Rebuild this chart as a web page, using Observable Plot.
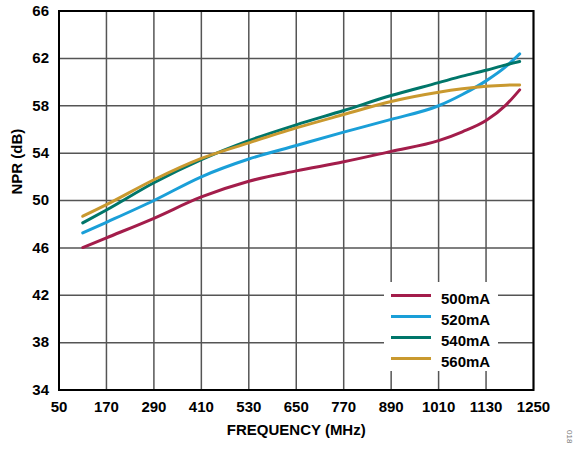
<!DOCTYPE html>
<html>
<head>
<meta charset="utf-8">
<script src="https://cdn.jsdelivr.net/npm/d3@7"></script>
<script src="https://cdn.jsdelivr.net/npm/@observablehq/plot@0.6"></script>
<style>
  body { margin: 0; background: #fff; }
  #wrap { position: relative; width: 574px; height: 449px; overflow: hidden; font-family: "Liberation Sans", Arial, sans-serif; }
  #legend { position: absolute; left: 384px; top: 282px; width: 114px; height: 89px; background: #fff; }
  .row { position: absolute; left: 0; height: 21px; width: 114px; }
  .sw { position: absolute; left: 7px; width: 40px; height: 3px; }
  .lab { position: absolute; left: 57px; font-size: 15px; font-weight: bold; color: #000; line-height: 15px; }
  #code { position: absolute; left: 573px; top: 430px; font-size: 8px; line-height: 8px; color: #777; transform: rotate(90deg); transform-origin: left top; }
</style>
</head>
<body>
<div id="wrap"></div>
<script>
const freq   = [110, 170, 290, 410, 530, 650, 770, 890, 1010, 1070, 1130, 1180, 1215];
const npr500 = [46.03, 46.85, 48.5, 50.3, 51.63, 52.5, 53.27, 54.15, 55.05, 55.8, 56.75, 58.05, 59.34];
const npr520 = [47.26, 48.16, 50.0, 52.0, 53.5, 54.64, 55.77, 56.85, 58.0, 58.95, 60.1, 61.3, 62.38];
const npr540 = [48.11, 49.2, 51.5, 53.45, 55.06, 56.39, 57.6, 58.86, 59.95, 60.5, 61.0, 61.45, 61.73];
const npr560 = [48.67, 49.65, 51.75, 53.55, 54.87, 56.13, 57.26, 58.36, 59.14, 59.43, 59.65, 59.74, 59.76];
const seriesNames  = ["500mA", "520mA", "540mA", "560mA"];
const seriesColors = ["#a31d4b", "#1a9fd8", "#00766a", "#c9992f"];
const xTicks = [50, 170, 290, 410, 530, 650, 770, 890, 1010, 1130, 1250];
const yTicks = [34, 38, 42, 46, 50, 54, 58, 62, 66];
const xTitle = "FREQUENCY (MHz)";
const yTitle = "NPR (dB)";

const values = [npr500, npr520, npr540, npr560];
const rows = seriesNames.flatMap((s, i) => freq.map((f, j) => ({series: s, freq: f, npr: values[i][j]})));

const chart = Plot.plot({
  width: 574, height: 449,
  marginLeft: 58.5, marginRight: 41, marginTop: 10.5, marginBottom: 59.5,
  x: {domain: [50, 1250]},
  y: {domain: [34, 66]},
  color: {domain: seriesNames, range: seriesColors},
  style: {fontFamily: "'Liberation Sans', Arial, sans-serif", fontSize: "15px", fontWeight: "bold", color: "#000", background: "transparent"},
  marks: [
    Plot.gridX(xTicks, {stroke: "#555", strokeOpacity: 1, strokeWidth: 1.5}),
    Plot.gridY(yTicks, {stroke: "#555", strokeOpacity: 1, strokeWidth: 1.5}),
    Plot.line(rows, {x: "freq", y: "npr", stroke: "series", strokeWidth: 3, curve: "monotone-x"}),
    Plot.frame({stroke: "#000", strokeWidth: 2}),
    Plot.axisX(xTicks, {tickSize: 0, tickPadding: 11, label: null, tickFormat: d => String(d), fontSize: 15, fontWeight: "bold"}),
    Plot.axisY(yTicks, {tickSize: 0, tickPadding: 10, label: null, tickFormat: d => String(d), fontSize: 15, fontWeight: "bold"}),
    Plot.text([xTitle], {frameAnchor: "bottom", dy: 45, fontSize: 15, fontWeight: "bold"}),
    Plot.text([yTitle], {frameAnchor: "left", rotate: -90, dx: -42, dy: -6, fontSize: 15, fontWeight: "bold"})
  ]
});
const wrap = document.getElementById("wrap");
wrap.appendChild(chart);

const legend = document.createElement("div");
legend.id = "legend";
seriesNames.forEach((s, i) => {
  const row = document.createElement("div");
  row.className = "row";
  row.style.top = (3 + i * 21.1) + "px";
  const sw = document.createElement("div");
  sw.className = "sw";
  sw.style.top = "9px";
  sw.style.background = seriesColors[i];
  const lab = document.createElement("div");
  lab.className = "lab";
  lab.style.top = "6px";
  lab.textContent = s;
  row.appendChild(sw); row.appendChild(lab);
  legend.appendChild(row);
});
wrap.appendChild(legend);

const code = document.createElement("div");
code.id = "code";
code.textContent = "018";
wrap.appendChild(code);
</script>
</body>
</html>
